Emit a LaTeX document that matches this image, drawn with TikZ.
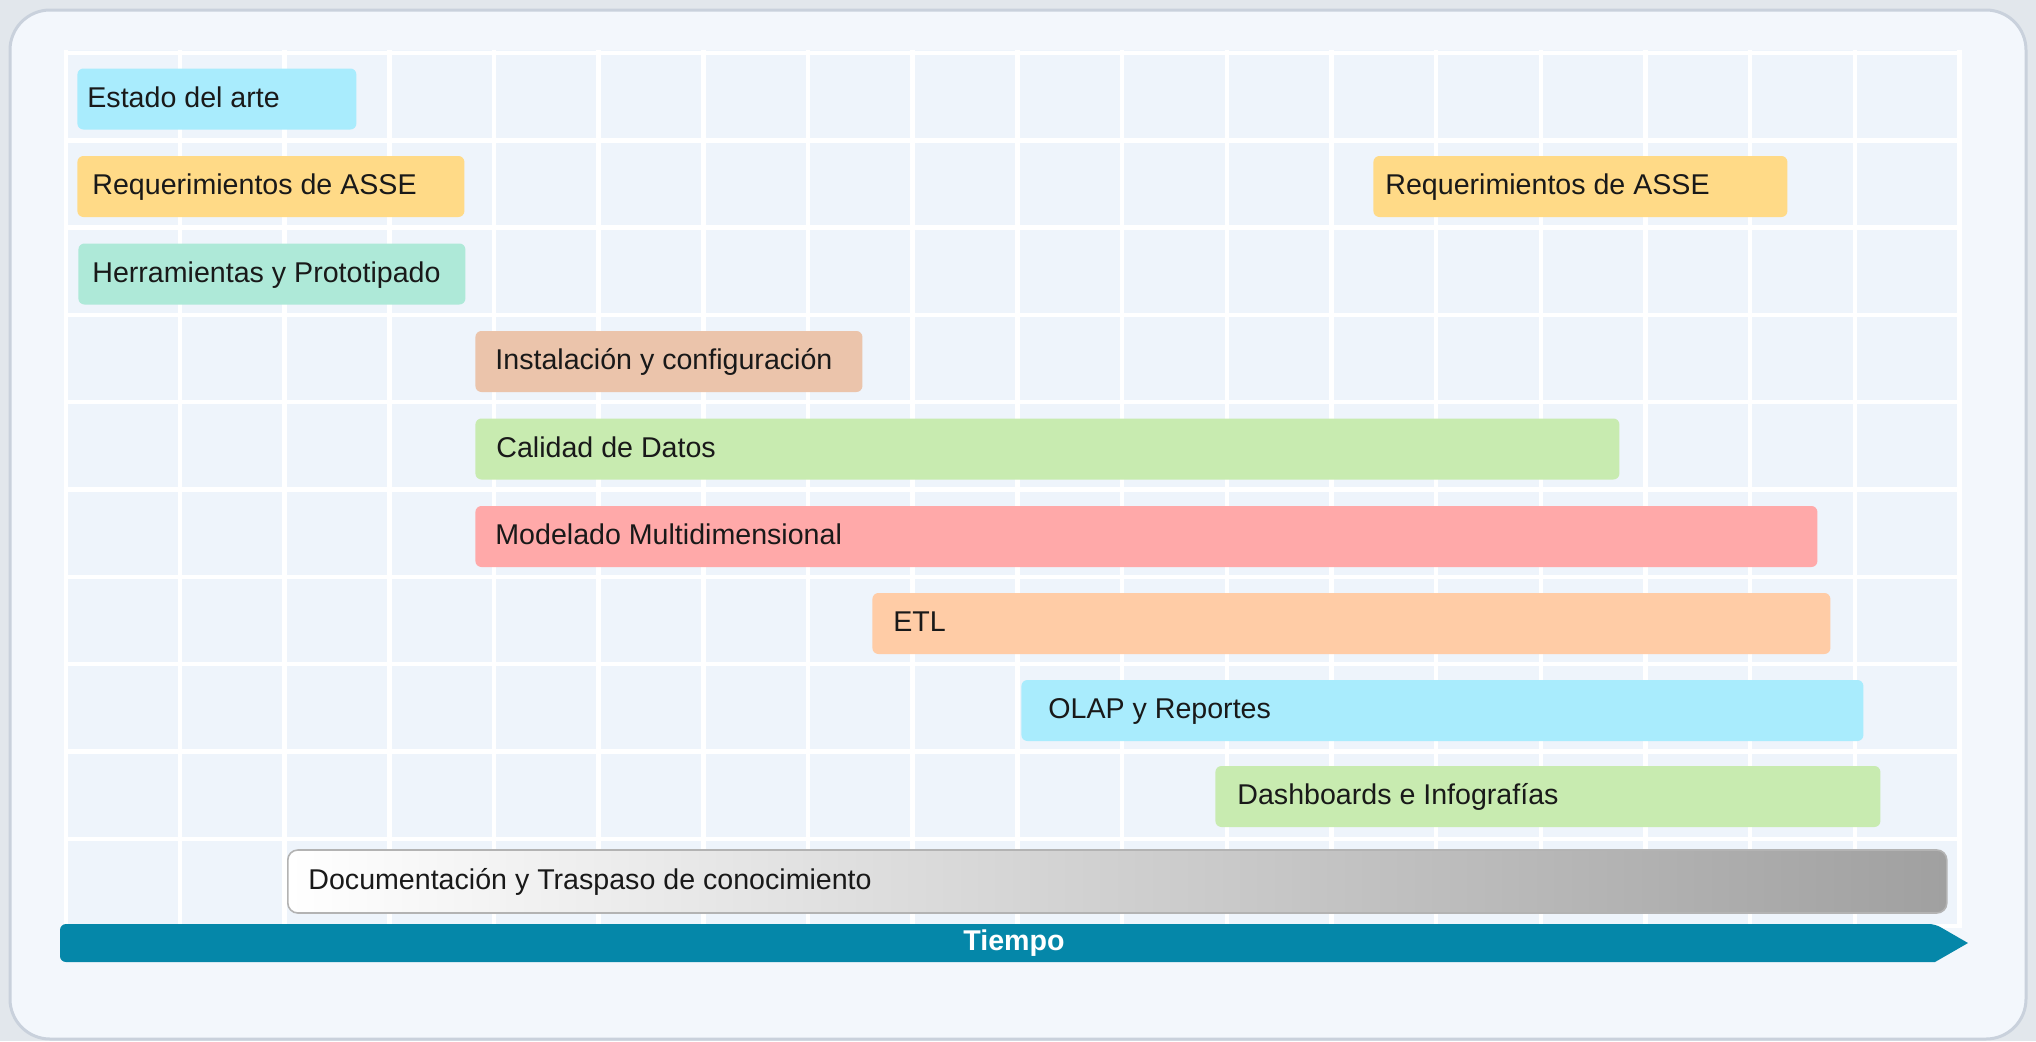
\documentclass[tikz,border=0pt]{standalone}
\usepackage{fontspec}
\setmainfont{Liberation Sans}

\definecolor{fondo}{HTML}{E2E7EC}
\definecolor{marco}{HTML}{F3F7FC}
\definecolor{borde}{HTML}{C9D1DC}
\definecolor{celda}{HTML}{EEF4FB}
\definecolor{cian}{HTML}{A9ECFD}
\definecolor{amarillo}{HTML}{FFDA87}
\definecolor{menta}{HTML}{AEE9D8}
\definecolor{tostado}{HTML}{EBC4AB}
\definecolor{verde}{HTML}{C8EBB0}
\definecolor{rosa}{HTML}{FFA9A9}
\definecolor{durazno}{HTML}{FFCCA6}
\definecolor{gris}{HTML}{A0A0A0}
\definecolor{azul}{HTML}{0587A9}

\begin{document}
\begin{tikzpicture}[x=0.5pt,y=-0.5pt,
    barra/.style={rounded corners=3pt, anchor=west, minimum height=30.5pt, inner sep=0pt},
    texto/.style={anchor=base west, inner sep=0pt, text=black!90, font=\fontsize{14.3pt}{17pt}\selectfont},
    linea/.style={white, line width=2.2pt}]
			\useasboundingbox (0,0) rectangle (2036,1041);
			\fill[fondo] (0,0) rectangle (2036,1041);
			\draw[borde, fill=marco, line width=1.5pt, rounded corners=20pt] (10,10) rectangle (2026,1039);
			% rejilla
			\fill[celda] (64,50) rectangle (1960,928);
			\draw[linea] (66,50) -- (66,928);
			\foreach \i in {0,...,17}
				\draw[linea] ({180+104.67*\i},50) -- ({180+104.67*\i},928);
			\foreach \j in {0,...,10}
				\draw[linea] (64,{53+87.3*\j}) -- (1960,{53+87.3*\j});
			% tareas
			\node[barra, fill=cian, minimum width=139.5pt] (estado) at (77,99) {};
			\node[texto] (tEstado) at (87,107) {Estado del arte};
			\node[barra, fill=amarillo, minimum width=193.5pt] (req) at (77,186.5) {};
			\node[texto] (tReq) at (92,194.5) {Requerimientos de ASSE};
			\node[barra, fill=amarillo, minimum width=207pt] (req2) at (1373,186.5) {};
			\node[texto] (tReq2) at (1385,194.5) {Requerimientos de ASSE};
			\node[barra, fill=menta, minimum width=193.5pt] (herr) at (78,274) {};
			\node[texto] (tHerr) at (92,282) {Herramientas y Prototipado};
			\node[barra, fill=tostado, minimum width=193.5pt] (inst) at (475,361.5) {};
			\node[texto] (tInst) at (495,369.5) {Instalación y configuración};
			\node[barra, fill=verde, minimum width=572pt] (cal) at (475,449) {};
			\node[texto] (tCal) at (496,457) {Calidad de Datos};
			\node[barra, fill=rosa, minimum width=671pt] (mod) at (475,536.5) {};
			\node[texto] (tMod) at (495,544.5) {Modelado Multidimensional};
			\node[barra, fill=durazno, minimum width=479pt] (etl) at (872,623.5) {};
			\node[texto] (tEtl) at (893,631.5) {ETL};
			\node[barra, fill=cian, minimum width=421pt] (olap) at (1021,710.5) {};
			\node[texto] (tOlap) at (1048,718.5) {OLAP y Reportes};
			\node[barra, fill=verde, minimum width=332.5pt] (dash) at (1215,796.5) {};
			\node[texto] (tDash) at (1237,804.5) {Dashboards e Infografías};
			\node[barra, draw=gris!80, line width=0.8pt, left color=white, right color=gris,
				rounded corners=5pt, minimum width=829.5pt, minimum height=31.5pt] (doc) at (287,881.5) {};
			\node[texto] (tDoc) at (308,889.5) {Documentación y Traspaso de conocimiento};
			% eje del tiempo
			\fill[azul] (1935,924) -- (1968,943) -- (1935,962) [rounded corners=3pt] -- (60,962) -- (60,924) -- cycle;
			\node[text=white, font=\fontsize{14.3pt}{17pt}\selectfont\bfseries] (tiempo) at (1014,943) {Tiempo};
\end{tikzpicture}
\end{document}
